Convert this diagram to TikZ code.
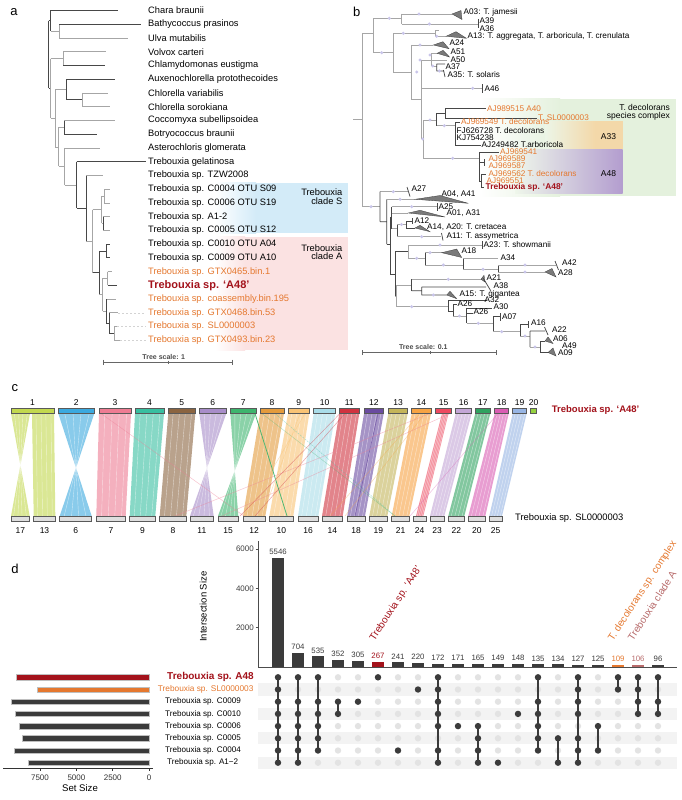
\documentclass[tikz,border=0pt]{standalone}
\usepackage{fontspec}
\setmainfont{Liberation Sans}
\newcommand\fz[1]{\fontsize{#1}{#1}\selectfont}
\definecolor{brdk}{HTML}{474747}
\definecolor{brlt}{HTML}{A6A6A6}
\definecolor{orng}{HTML}{E5782F}
\definecolor{dred}{HTML}{A3121B}
\definecolor{blbox}{HTML}{D3EBF8}
\definecolor{pkbox}{HTML}{FBE2E2}
\definecolor{grbox}{HTML}{E4F1DD}
\definecolor{tanbox}{HTML}{F3D8A9}
\definecolor{purbox}{HTML}{B39DCF}
\definecolor{lav}{HTML}{C9C5EA}
\definecolor{trig}{HTML}{7A7A7A}
\definecolor{trid}{HTML}{3A3A3A}
\definecolor{dk}{HTML}{3B3B3B}
\definecolor{dotg}{HTML}{E3E3E3}
\definecolor{stripe}{HTML}{F3F3F3}
\definecolor{rosy}{HTML}{B86B6B}
\definecolor{c1}{HTML}{C2D84E}
\definecolor{c2}{HTML}{3BA9DF}
\definecolor{c3}{HTML}{EE7C93}
\definecolor{c4}{HTML}{38BFA0}
\definecolor{c5}{HTML}{8B6440}
\definecolor{c6}{HTML}{A88DC9}
\definecolor{c7}{HTML}{3DB56E}
\definecolor{c8}{HTML}{E49B3D}
\definecolor{c9}{HTML}{F9C375}
\definecolor{c10}{HTML}{A9DDE9}
\definecolor{c11}{HTML}{D0323F}
\definecolor{c12}{HTML}{6A4BA0}
\definecolor{c13}{HTML}{C4B55A}
\definecolor{c14}{HTML}{F7A343}
\definecolor{c15}{HTML}{EE4A60}
\definecolor{c16}{HTML}{C3A6D6}
\definecolor{c17}{HTML}{2FA360}
\definecolor{c18}{HTML}{DA5DB3}
\definecolor{c19}{HTML}{97B5E4}
\definecolor{c20}{HTML}{95D240}
\newcommand\rib[5]{\fill[#5,opacity=0.6] (#1,413.5) -- (#2,413.5) -- (#4,516) -- (#3,516) -- cycle;
  \foreach \t in {0.18,0.41,0.63,0.86}{\draw[white,opacity=0.55,line width=0.4pt] ({#1+\t*(#2-#1)},413.5) -- ({#3+\t*(#4-#3)},516);}}
\newcommand\ribx[5]{\fill[#5,opacity=0.6] (#1,413.5) -- (#2,413.5) -- (#3,516) -- (#4,516) -- cycle;
  \foreach \t in {0.18,0.41,0.63,0.86}{\draw[white,opacity=0.55,line width=0.4pt] ({#1+\t*(#2-#1)},413.5) -- ({#4-\t*(#4-#3)},516);}}
\begin{document}
\begin{tikzpicture}[x=1pt,y=-1pt,
  bd/.style={draw=brdk,line width=0.75pt},
  bl/.style={draw=brlt,line width=0.75pt},
  tri/.style={fill=trig,draw=trid,line width=0.3pt},
  dot/.style={fill=lav},
  lab/.style={anchor=west,inner sep=0pt,font=\fz{9.3}},
  lbb/.style={anchor=west,inner sep=0pt,font=\fz{8.2}},
  pan/.style={anchor=center,inner sep=0pt,font=\fz{13}},
  num/.style={inner sep=0pt,font=\fz{8.5}},
  rowl/.style={inner sep=0pt,font=\fz{8.1}}]
\useasboundingbox (0,0) rectangle (682,800);
\fill[white] (0,0) rectangle (682,800);

%================ PANEL A =================
\node[pan] (pa) at (14,12) {a};
% highlight boxes
\shade[left color=white,right color=blbox] (215,182.7) rectangle (256,233.3);
\fill[blbox] (256,182.7) rectangle (347.7,233.3);
\shade[left color=white,right color=pkbox] (215,236.7) rectangle (245,350);
\fill[pkbox] (245,236.7) rectangle (347.7,350);
\node[font=\fz{9.3},align=right,anchor=east,inner sep=0pt] (cs) at (342.5,196.7) {Trebouxia\\[-1.2pt]clade S};
\node[font=\fz{9.3},align=right,anchor=east,inner sep=0pt] (ca) at (342.5,252.2) {Trebouxia\\[-1.2pt]clade A};
% tree
\draw[bd] (48.7,20.8)--(48.7,88.4) (48.7,20.8)--(50.7,20.8) (50.7,10.5)--(50.7,31.1) (50.7,10.5)--(117.7,10.5);
\draw[bl] (50.7,31.1)--(59.3,31.1) (59.3,24.2)--(59.3,38.0) (59.3,38.0)--(128.3,38.0);
\draw[bd] (59.3,24.2)--(140.7,24.2);
\draw[bd] (48.7,88.4)--(50.7,88.4);
\draw[bl] (50.7,58.6)--(50.7,118.2) (50.7,58.6)--(63.3,58.6) (63.3,51.7)--(63.3,65.5) (63.3,51.7)--(106,51.7);
\draw[bd] (63.3,65.5)--(105,65.5);
\draw[bl] (50.7,118.2)--(55,118.2) (55,89.5)--(55,146.9) (55,89.5)--(66,89.5);
\draw[bd] (66,79.2)--(66,99.8) (66,79.2)--(115,79.2) (66,99.8)--(82.7,99.8);
\draw[bl] (82.7,92.9)--(82.7,106.7) (82.7,92.9)--(108,92.9) (82.7,106.7)--(110,106.7);
\draw[bl] (55,146.9)--(58.5,146.9) (58.5,127.3)--(58.5,166.45) (58.5,127.3)--(64,127.3);
\draw[bd] (64,120.4)--(64,134.2) (64,134.2)--(97.3,134.2);
\draw[bl] (64,120.4)--(115,120.4);
\draw[bl] (58.5,166.45)--(64.5,166.45) (64.5,147.9)--(64.5,185) (64.5,147.9)--(100,147.9) (64.5,185)--(76.7,185);
\draw[bd] (76.7,161.6)--(76.7,208.35) (76.7,161.6)--(146,161.6) (76.7,208.35)--(86,208.35) (86,175.4)--(86,241.3);
\draw[bl] (86,175.4)--(102.7,175.4) (86,241.3)--(92.7,241.3) (92.7,209.7)--(92.7,272.85) (92.7,209.7)--(101.7,209.7);
\draw[bl] (101.7,196)--(101.7,223.45) (101.7,196)--(104.3,196) (104.3,189.1)--(104.3,202.9) (104.3,189.1)--(110,189.1) (104.3,202.9)--(110,202.9);
\draw[bl] (101.7,223.45)--(103.3,223.45) (103.3,216.6)--(110,216.6) (103.3,230.3)--(110,230.3);
\draw[bd] (103.3,216.6)--(103.3,230.3);
\draw[bd] (92.7,272.85)--(99.3,272.85) (99.3,250.95)--(99.3,294.75) (99.3,250.95)--(106.7,250.95) (106.7,244.1)--(106.7,257.8);
\draw[bd] (106.7,244.1)--(110,244.1) (106.7,257.8)--(110,257.8);
\draw[bl] (99.3,294.75)--(102.5,294.75) (102.5,278.45)--(102.5,311.05) (102.5,278.45)--(107.7,278.45) (107.7,271.6)--(107.7,285.3) (107.7,271.6)--(111.7,271.6);
\draw[bd] (107.7,285.3)--(117.3,285.3);
\draw[bl] (102.5,311.05)--(106,311.05) (106,299)--(116,299);
\draw[bd] (106,299)--(106,323.1) (106,323.1)--(109.3,323.1) (109.3,312.8)--(109.3,333.4) (109.3,333.4)--(114,333.4);
\draw[bl] (109.3,312.8)--(118.3,312.8) (114,326.5)--(114,340.3) (114,326.5)--(117.3,326.5) (114,340.3)--(120,340.3);
\draw[brlt!50,line width=0.6pt,dash pattern=on 2pt off 2pt] (118.3,312.8)--(146,312.8) (117.3,326.5)--(146,326.5) (120,340.3)--(146,340.3);
% labels
\node[lab] (ta1) at (148,10.5) {Chara braunii};
\node[lab] (ta2) at (148,24.2) {Bathycoccus prasinos};
\node[lab] (ta3) at (148,38.0) {Ulva mutabilis};
\node[lab] (ta4) at (148,51.7) {Volvox carteri};
\node[lab] (ta5) at (148,65.5) {Chlamydomonas eustigma};
\node[lab] (ta6) at (148,79.2) {Auxenochlorella protothecoides};
\node[lab] (ta7) at (148,92.9) {Chlorella variabilis};
\node[lab] (ta8) at (148,106.7) {Chlorella sorokiana};
\node[lab] (ta9) at (148,120.4) {Coccomyxa subellipsoidea};
\node[lab] (ta10) at (148,134.2) {Botryococcus braunii};
\node[lab] (ta11) at (148,147.9) {Asterochloris glomerata};
\node[lab] (ta12) at (148,161.6) {Trebouxia gelatinosa};
\node[lab] (ta13) at (148,175.4) {Trebouxia sp. TZW2008};
\node[lab] (ta14) at (148,189.1) {Trebouxia sp. C0004 OTU S09};
\node[lab] (ta15) at (148,202.9) {Trebouxia sp. C0006 OTU S19};
\node[lab] (ta16) at (148,216.6) {Trebouxia sp. A1-2};
\node[lab] (ta17) at (148,230.3) {Trebouxia sp. C0005 OTU S12};
\node[lab] (ta18) at (148,244.1) {Trebouxia sp. C0010 OTU A04};
\node[lab] (ta19) at (148,257.8) {Trebouxia sp. C0009 OTU A10};
\node[lab,text=orng] (ta20) at (148,271.6) {Trebouxia sp. GTX0465.bin.1};
\node[lab,text=dred,font=\fz{11}\bfseries] (ta21) at (148,285.3) {Trebouxia sp. ‘A48’};
\node[lab,text=orng] (ta22) at (148,299.0) {Trebouxia sp. coassembly.bin.195};
\node[lab,text=orng] (ta23) at (148,312.8) {Trebouxia sp. GTX0468.bin.53};
\node[lab,text=orng] (ta24) at (148,326.5) {Trebouxia sp. SL0000003};
\node[lab,text=orng] (ta25) at (148,340.3) {Trebouxia sp. GTX0493.bin.23};
\node[font=\fz{7}\bfseries,text=black!70,inner sep=0pt] (tsa) at (163.8,356.7) {Tree scale: 1};
\draw[black!60,line width=0.6pt] (103.5,362)--(232,362) (103.5,359.5)--(103.5,364.5) (232,359.5)--(232,364.5) (168,360.5)--(168,363.5);

%================ PANEL B =================
\node[pan] (pb) at (356.7,11.7) {b};
\shade[left color=white,right color=grbox] (480,98.7) rectangle (560,196);
\fill[grbox] (560,98.7) rectangle (676,196);
\shade[left color=grbox!70!white,right color=tanbox] (545,121.3) rectangle (595,149.3);
\fill[tanbox] (595,121.3) rectangle (622.7,149.3);
\shade[left color=grbox!60!white,right color=purbox] (515,149.3) rectangle (622.7,193.3);
\node[font=\fz{8.5},align=right,anchor=east,inner sep=0pt] (dsc) at (670,112.5) {T. decolorans\\[-0.8pt]species complex};
\node[font=\fz{8.5},inner sep=0pt] (b33) at (608.5,136.7) {A33};
\node[font=\fz{8.5},inner sep=0pt] (b48) at (608.5,174) {A48};
% upper tree
\draw[bl] (353.3,119.3)--(362.7,119.3) (362.7,33.3)--(362.7,206.7) (362.7,33.3)--(373.3,33.3) (373.3,18.3)--(373.3,52.7) (373.3,18.3)--(401.7,18.3);
\draw[bl] (401.7,14)--(401.7,24) (401.7,14)--(452,14) (401.7,24)--(478.3,24);
\draw[bd] (478.3,19)--(478.3,28.5);
\filldraw[tri] (452,14)--(461,10.5)--(462,19.5)--cycle;
\draw[bl] (373.3,52.7)--(393.3,52.7) (393.3,33.3)--(393.3,72) (393.3,33.3)--(435,33.3) (435,30.7)--(435,36.3) (435,30.7)--(439,30.7) (435,36.3)--(446,36.3);
\filldraw[tri] (446,36.3)--(456,31.7)--(466.5,38.3)--cycle;
\draw[bl] (393.3,72)--(411.7,72) (411.7,45)--(411.7,99.5) (411.7,45)--(433.3,45);
\filldraw[tri] (433.3,45)--(443,41.7)--(449,48.7)--cycle;
\draw[bl] (411.7,99.5)--(421.7,99.5) (421.7,60)--(421.7,139) (421.7,60)--(447,60) (431.7,53.3)--(431.7,66) (431.7,53.3)--(437,53.3) (431.7,66)--(436.7,66);
\filldraw[tri] (437,53.3)--(443,50.3)--(449.5,57)--cycle;
\draw[bd] (436.7,64)--(436.7,71) (436.7,64)--(445,64) (436.7,71)--(443,71) (443.5,70)--(445,77);
\draw[bl] (421.7,88.3)--(482.3,88.3);
\draw[bd] (482.3,84)--(482.3,92.5);
\draw[bl] (421.7,139)--(423.3,139) (423.3,120)--(423.3,158.3) (423.3,120)--(436.7,120);
\draw[bd] (436.7,113.3)--(436.7,125.7) (436.7,113.3)--(445,113.3) (445,108.7)--(445,118) (445,108.7)--(486,108.7) (445,118)--(537,118);
\draw[bl] (436.7,125.7)--(455,125.7);
\draw[bd] (455,122)--(455,145) (455,122)--(460,122) (455,145)--(481,145);
\draw[bl] (423.3,158.3)--(479.3,158.3);
\draw[bd] (479.3,152.7)--(479.3,181) (479.3,152.7)--(499,152.7) (479.3,162.5)--(484,162.5) (484,159)--(484,166) (479.3,181)--(481.7,181) (481.7,174)--(481.7,187.7) (481.7,174)--(486,174) (481.7,187.7)--(484,187.7);
\foreach \p in {(389.3,18.3),(419,14),(429.3,24),(381.7,52.7),(403.3,33.3),(436.7,36.3),(420,45),(416.7,72),(420,60),(430,55),(432.7,66),(439.3,71),(422.7,139),(430,120),(444.3,125.7),(472.7,88.3),(452.7,158.3)} \fill[dot] \p circle (1.7pt);
% upper labels
\node[lbb] (b1) at (463.5,12.5) {A03: T. jamesii};
\node[lbb] (b2) at (479.5,20.5) {A39};
\node[lbb] (b3) at (479.5,29) {A36};
\node[lbb] (b4) at (467.5,36.7) {A13: T. aggregata, T. arboricula, T. crenulata};
\node[lbb] (b5) at (449.5,43) {A24};
\node[lbb] (b6) at (450.5,51.7) {A51};
\node[lbb] (b7) at (450.5,59.3) {A50};
\node[lbb] (b8) at (445.5,66.7) {A37};
\node[lbb] (b9) at (447.5,75) {A35: T. solaris};
\node[lbb] (b10) at (484.5,88.3) {A46};
\node[lbb,text=orng] (b11) at (487,108.5) {AJ989515 A40};
\node[lbb,text=orng] (b12) at (538,117.5) {T. SL0000003};
\node[lbb,text=orng] (b13) at (461,122) {AJ969549 T. decolorans};
\node[lbb] (b14) at (456.5,130.5) {FJ626728 T. decolorans};
\node[lbb] (b15) at (456.5,137.7) {KJ754238};
\node[lbb] (b16) at (481.5,145) {AJ249482 T.arboricola};
\node[lbb,text=orng] (b17) at (500,151.5) {AJ969541};
\node[lbb,text=orng] (b18) at (488.3,159) {AJ969589};
\node[lbb,text=orng] (b19) at (488.3,166) {AJ969587};
\node[lbb,text=orng] (b20) at (488.3,173.5) {AJ969562 T. decolorans};
\node[lbb,text=orng] (b21) at (486.5,180.2) {AJ969551};
\node[lbb,text=dred,font=\fz{8.4}\bfseries] (b22) at (485.5,187.7) {Trebouxia sp. ‘A48’};
% lower tree
\draw[bl] (362.7,206.7)--(380,206.7) (380,191.7)--(408.3,191.7);
\draw[bd] (380,191.7)--(380,221.7) (407,187)--(410,196.5) (380,221.7)--(386.7,221.7) (386.7,199.3)--(386.7,244);
\draw[bl] (386.7,199.3)--(415,199.3);
\filldraw[tri] (415,199.3)--(440,195.5)--(468.3,203.3)--cycle;
\draw[bd] (386.7,244)--(390,244) (390,217.8)--(390,274) (390,217.8)--(391.7,217.8) (391.7,206.7)--(391.7,228.8);
\draw[bl] (391.7,206.7)--(436.7,206.7) (391.7,213)--(408.3,213) (391.7,228.8)--(397,228.8);
\draw[bd] (437,203)--(437,210.5);
\filldraw[tri] (408.3,213)--(420,210.3)--(445,217)--cycle;
\draw[bd] (397,224.5)--(397,236.7);
\draw[bl] (397,224.5)--(406,224.5);
\draw[bd] (406,221)--(406,228) (406,221)--(412,221) (412.3,218)--(412.3,224) (406,228)--(415,228);
\filldraw[tri] (415,228)--(420,225.3)--(430,231.7)--cycle;
\draw[bl] (397,236.7)--(441,236.7);
\draw[bd] (441.5,233)--(443,240.5);
\draw[bd] (390,274)--(395,274) (395,251.7)--(395,296) (395,251.7)--(408.3,251.7);
\draw[bl] (408.3,245)--(408.3,258.3) (408.3,245)--(481.7,245) (408.3,258.3)--(425,258.3);
\draw[bd] (482,241)--(482,249) (425,252.7)--(425,265);
\draw[bl] (425,252.7)--(441.7,252.7) (425,265)--(463.3,265);
\filldraw[tri] (441.7,252.7)--(456.7,249)--(461.7,257.5)--cycle;
\draw[bd] (463.3,258.3)--(463.3,269.3);
\draw[bl] (463.3,258.3)--(498.3,258.3) (463.3,269.3)--(498.3,269.3);
\draw[bd] (498.3,265)--(498.3,272);
\draw[bl] (498.3,265)--(556,265) (498.3,272)--(545,272);
\draw[bd] (555,261)--(558.5,270);
\filldraw[tri] (545,272)--(552,268.5)--(556,277)--cycle;
\draw[bl] (395,296)--(396.7,296) (396.7,285)--(396.7,306.7) (396.7,285)--(411.7,285);
\draw[bd] (411.7,279.3)--(411.7,290.7);
\draw[bl] (411.7,279.3)--(481.7,279.3);
\filldraw[tri] (481,279.3)--(484,275.3)--(485,282)--cycle;
\draw[bd] (411.7,290.7)--(421.7,290.7) (421.7,287)--(421.7,295) (421.7,287)--(486,287) (483.3,278.3)--(490.7,290.7) (421.7,295)--(446.7,295);
\filldraw[tri] (446.7,295)--(450,291.3)--(456.7,298.7)--cycle;
\draw[bl] (396.7,306.7)--(448.3,306.7);
\draw[bd] (448.3,300.7)--(448.3,311) (448.3,300.7)--(486.7,300.7) (448.3,311)--(453.3,311) (453.3,304.5)--(453.3,316) (453.3,304.5)--(456.7,304.5);
\draw[bl] (453.3,316)--(466.7,316);
\draw[bd] (466.7,308)--(466.7,323.3) (466.7,308)--(492,308) (466.7,313)--(472.5,313);
\draw[bl] (466.7,323.3)--(493.3,323.3);
\draw[bd] (493.3,316.7)--(493.3,331.7) (493.3,316.7)--(500,316.7) (500.3,313)--(500.3,320.5);
\draw[bl] (493.3,331.7)--(520,331.7);
\draw[bd] (520,324.5)--(520,336) (520,324.5)--(527.5,324.5) (528,321)--(528,328);
\draw[bl] (520,336)--(530,336);
\draw[bd] (530,331)--(530,347) (530,331)--(545,331) (544.5,327)--(548,335);
\draw[bl] (530,347)--(540,347);
\draw[bd] (540,341)--(540,352.5) (540,341)--(545,341) (540,352.5)--(548,352.5);
\filldraw[tri] (545,341)--(548,337)--(553,343.5)--cycle;
\filldraw[tri] (548,352.5)--(553,348)--(556,356)--cycle;
\foreach \p in {(371,206.7),(393.3,191.7),(400,199.3),(411.7,206.7),(401.5,224.5),(421.7,236.7),(440,245),(416.7,258.3),(430,252.7),(443.3,265),(483,269.3),(525,265),(525,272),(448.3,279.3),(433.3,295),(411.7,306.7),(478.3,323.3),(501.7,331.7),(525,336),(535,347),(459.5,316)} \fill[dot] \p circle (1.7pt);
% lower labels
\node[lbb] (l1) at (411.5,189) {A27};
\node[lbb] (l2) at (441.5,194.5) {A04, A41};
\node[lbb] (l3) at (438.5,206.5) {A25};
\node[lbb] (l4) at (446.5,213.3) {A01, A31};
\node[lbb] (l5) at (414.5,220.5) {A12};
\node[lbb] (l6) at (427,227.5) {A14, A20: T. cretacea};
\node[lbb] (l7) at (446.5,236.7) {A11: T. assymetrica};
\node[lbb] (l8) at (483.5,245) {A23: T. showmanii};
\node[lbb] (l9) at (461.5,251) {A18};
\node[lbb] (l10) at (500.5,257.3) {A34};
\node[lbb] (l11) at (562,263) {A42};
\node[lbb] (l12) at (558,273) {A28};
\node[lbb] (l13) at (486.5,277.5) {A21};
\node[lbb] (l14) at (493.5,286) {A38};
\node[lbb] (l15) at (459.5,294) {A15: T. gigantea};
\node[lbb] (l16) at (484.5,300) {A32};
\node[lbb] (l17) at (457.5,304) {A26};
\node[lbb] (l18) at (493.5,306.7) {A30};
\node[lbb] (l19) at (473.5,312) {A26};
\node[lbb] (l20) at (502,316.7) {A07};
\node[lbb] (l21) at (531,322.7) {A16};
\node[lbb] (l22) at (552,329.3) {A22};
\node[lbb] (l23) at (553,338.3) {A06};
\node[lbb] (l24) at (562,346) {A49};
\node[lbb] (l25) at (558,353) {A09};
\node[font=\fz{7}\bfseries,text=black!70,inner sep=0pt] (tsb) at (423.3,347.3) {Tree scale: 0.1};
\draw[black!60,line width=0.6pt] (362.7,352.7)--(496.7,352.7) (362.7,350.2)--(362.7,355.2) (496.7,350.2)--(496.7,355.2) (430,351.2)--(430,354.2);

%================ PANEL C =================
\node[pan] (pc) at (15,388) {c};
% ribbons
\ribx{11}{30}{11}{29.7}{c1}
\rib{32}{54}{33.7}{55.3}{c1}
\ribx{58.3}{94.3}{59.7}{91.7}{c2}
\rib{99}{131}{96.3}{125.7}{c3}
\rib{135}{164}{129.7}{155.3}{c4}
\rib{168.3}{195.3}{159.7}{186.3}{c5}
\ribx{199.3}{226.3}{190}{213.7}{c6}
\ribx{230.3}{256}{218}{238.3}{c7}
\rib{260}{284}{243}{265.3}{c8}
\rib{288}{309.3}{269.3}{293.3}{c9}
\rib{313.7}{335.3}{298}{318.3}{c10}
\rib{339.3}{359.3}{322}{342.7}{c11}
\rib{364}{383.7}{347.3}{365}{c12}
\rib{388.3}{407.7}{369.3}{387.3}{c13}
\rib{411.7}{431}{391.7}{409.3}{c14}
\rib{442}{448.5}{416}{423.3}{c15}
\rib{455.7}{471.7}{430}{444.3}{c16}
\rib{475.3}{490.3}{448.3}{464.3}{c17}
\rib{494.7}{508.7}{468.3}{485.3}{c18}
\rib{512.7}{526.7}{489.3}{502}{c19}
% faint cross links
\draw[c3,opacity=0.45,line width=0.5pt] (101,413.5)--(244,516) (430,413.5)--(175,516) (450,413.5)--(222,516);
\draw[c7,opacity=0.9,line width=0.8pt] (255,413.5)--(287,516);
\draw[c7,opacity=0.35,line width=0.5pt] (262,413.5)--(395,516);
\draw[c9,opacity=0.5,line width=0.5pt] (305,413.5)--(245,516) (300,413.5)--(262,516);
\draw[c11,opacity=0.45,line width=0.5pt] (340,413.5)--(240,516) (345,413.5)--(255,516);
\draw[c4,opacity=0.4,line width=0.5pt,dash pattern=on 2pt off 1pt] (275,413.5)--(395,516);
\draw[c12,opacity=0.7,line width=0.6pt] (378,413.5)--(355,516);
\draw[c14,opacity=0.4,line width=0.5pt] (420,413.5)--(330,516) (425,413.5)--(345,516);
\draw[c18,opacity=0.4,line width=0.5pt] (498,413.5)--(410,516);
% top bars
\foreach \a/\b/\n in {11/54/1,58.3/94.3/2,99/131/3,135/164/4,168.3/195.3/5,199.3/226.3/6,230.3/256/7,260/284/8,288/309.3/9,313.7/335.3/10,339.3/359.3/11,364/383.7/12,388.3/407.7/13,411.7/431/14,435.3/451.7/15,455.7/471.7/16,475.3/490.3/17,494.7/508.7/18,512.7/526.7/19,530.3/536.7/20}{
  \filldraw[fill=c\n,draw=black!65,line width=0.5pt] (\a,408.3) rectangle (\b,413.7);
  \node[num] (t\n) at ({(\a+\b)/2},402.5) {\n};
}
% bottom bars
\foreach \a/\b/\n in {11/29.7/17,33.7/55.3/13,59.7/91.7/6,96.3/125.7/7,129.7/155.3/9,159.7/186.3/8,190/213.7/11,218/238.3/15,243/265.3/12,269.3/293.3/10,298/318.3/16,322/342.7/14,347.3/365/18,369.3/387.3/19,391.7/409.3/21,413/426/24,430/444.3/23,448.3/464.3/22,468.3/485.3/20,489.3/502/25}{
  \filldraw[fill=black!13,draw=black!65,line width=0.5pt] (\a,515.8) rectangle (\b,521.2);
  \node[num] (s\n) at ({(\a+\b)/2},530.5) {\n};
}
\node[anchor=west,inner sep=0pt,font=\fz{9.5}\bfseries,text=dred] (ca48) at (551.7,410.5) {Trebouxia sp. ‘A48’};
\node[anchor=west,inner sep=0pt,font=\fz{9.4}] (csl) at (515,518.5) {Trebouxia sp. SL0000003};

%================ PANEL D =================
\node[pan] (pd) at (15,569) {d};
% stripes
\foreach \r in {1,3,5,7} \fill[stripe] (258.3,{677.3+12.2*\r-6.1}) rectangle (676.7,{677.3+12.2*\r+6.1});
% axes
\draw[black!70,line width=0.8pt] (258.3,541)--(258.3,667);
\draw[black!70,line width=1pt] (258.3,667)--(676.7,667);
\foreach \v/\y in {6000/549,4000/588.3,2000/627.7}{
  \draw[black!70,line width=0.6pt] (255.5,\y)--(258.3,\y);
  \node[anchor=east,inner sep=0pt,font=\fz{8},text=black!75] (yt\v) at (254,\y) {\v};
}
\node[rotate=90,inner sep=0pt,font=\fz{9.5}] (isz) at (203.3,606.7) {Intersection Size};
% bars
\foreach \i/\v/\c in {0/5546/dk,1/704/dk,2/535/dk,3/352/dk,4/305/dk,5/267/dred,6/241/dk,7/220/dk,8/172/dk,9/171/dk,10/165/dk,11/149/dk,12/148/dk,13/135/dk,14/134/dk,15/127/dk,16/125/dk,17/109/orng,18/106/rosy,19/96/dk}{
  \fill[\c] ({272+20*\i},667) rectangle ({284+20*\i},{667-\v*0.019667});
  \node[font=\fz{7.8},text=\c,anchor=south,inner sep=0pt] (v\i) at ({278+20*\i},{667-\v*0.019667-3}) {\v};
}
% rotated labels
\node[rotate=57,anchor=base west,inner sep=0pt,font=\fz{10},text=dred] (rl1) at (374.5,641.5) {Trebouxia sp. ‘A48’};
\node[rotate=57,anchor=base west,inner sep=0pt,font=\fz{10},text=orng] (rl2) at (613,641.5) {T. decolorans sp. complex};
\node[rotate=57,anchor=base west,inner sep=0pt,font=\fz{10},text=rosy] (rl3) at (633,641.5) {Trebouxia clade A};
% matrix
\foreach \i in {0,...,19}{\foreach \r in {0,...,7}{\fill[dotg] ({278+20*\i},{677.3+12.2*\r}) circle (3.2pt);}}
\foreach \i/\rows/\lo/\hi in {0/{0,1,2,3,4,5,6,7}/0/7,1/{0,2,3,4,5,6,7}/0/7,2/{0,2,3,4,5,6}/0/6,3/{2,3}/2/3,4/{2}/2/2,5/{0}/0/0,6/{6}/6/6,7/{1}/1/1,8/{0,1,2,3,4,6,7}/0/7,9/{4}/4/4,10/{4,5,6,7}/4/7,11/{7}/7/7,12/{3}/3/3,13/{0,2,3,4,5,6}/0/6,14/{5,7}/5/7,15/{0,1,2,3,5,6,7}/0/7,16/{4,6}/4/6,17/{0,1}/0/1,18/{0,1,2,3}/0/3,19/{0,2,3}/0/3}{
  \draw[dk,line width=1.4pt] ({278+20*\i},{677.3+12.2*\lo})--({278+20*\i},{677.3+12.2*\hi});
  \foreach \r in \rows {\fill[dk] ({278+20*\i},{677.3+12.2*\r}) circle (3.2pt);}
}
% set size bars
\foreach \r/\x/\c in {0/15.7/dred,1/36.7/orng,2/10.7/dk,3/15.3/dk,4/19.3/dk,5/22/dk,6/13.7/dk,7/28.3/dk}{
  \filldraw[fill=\c,draw=black!25,line width=0.4pt] (\x,{677.3+12.2*\r-2.7}) rectangle (149,{677.3+12.2*\r+2.7});
}
\draw[black!80,line width=0.8pt] (3,768.3)--(153,768.3);
\foreach \x/\t in {40/7500,76.4/5000,112.7/2500,149/0}{
  \draw[black!80,line width=0.6pt] (\x,768.3)--(\x,770.8);
  \node[font=\fz{8},inner sep=0pt,text=black!80] (sx\t) at (\x,777.5) {\t};
}
\node[font=\fz{9.6},inner sep=0pt] (ssz) at (80,788.3) {Set Size};
% row labels
\node[rowl,font=\fz{10}\bfseries,text=dred] (r0) at (210.5,677.3) {Trebouxia sp. A48};
\node[rowl,font=\fz{8.3},text=orng] (r1) at (205.7,689.5) {Trebouxia sp. SL0000003};
\node[rowl] (r2) at (203,701.7) {Trebouxia sp. C0009};
\node[rowl] (r3) at (203,713.9) {Trebouxia sp. C0010};
\node[rowl] (r4) at (203,726.1) {Trebouxia sp. C0006};
\node[rowl] (r5) at (203,738.3) {Trebouxia sp. C0005};
\node[rowl] (r6) at (203,750.5) {Trebouxia sp. C0004};
\node[rowl] (r7) at (202.7,762.7) {Trebouxia sp. A1−2};
\end{tikzpicture}
\end{document}
